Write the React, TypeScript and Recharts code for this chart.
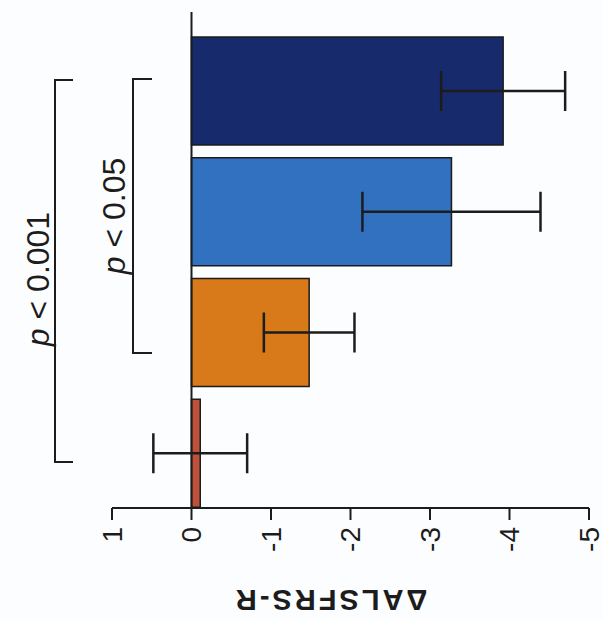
import React from 'react';
import { BarChart, Bar, XAxis, YAxis, ErrorBar, Cell, ReferenceLine, Customized } from 'recharts';

// Data
const groups = ['Group 4', 'Group 3', 'Group 2', 'Group 1'];
const meanChange = [-3.92, -3.27, -1.48, -0.11];
const errorSize = [0.78, 1.12, 0.57, 0.59];
const axisTicks = [1, 0, -1, -2, -3, -4, -5];
const pLabels = ['p < 0.001', 'p < 0.05'];

const barColors = ['#172a6c', '#3270c0', '#d87a1a', '#bd5139'];

const data = groups.map((g, i) => ({ name: g, value: meanChange[i], err: errorSize[i] }));

const INK = '#1c1c1c';

const Tick = (props: any) => {
  const { x, y, payload } = props;
  const ty = y + 5;
  return (
    <text
      x={x}
      y={ty}
      transform={`rotate(-90, ${x}, ${ty})`}
      textAnchor="end"
      dominantBaseline="central"
      fontFamily="Liberation Sans, Arial, sans-serif"
      fontSize={28}
      fill={INK}
    >
      {String(payload.value)}
    </text>
  );
};

const PText = ({ x, y, label }: { x: number; y: number; label: string }) => {
  const rest = label.slice(1);
  return (
    <text
      x={x}
      y={y}
      transform={`rotate(-90, ${x}, ${y})`}
      textAnchor="middle"
      dominantBaseline="central"
      fontFamily="Liberation Sans, Arial, sans-serif"
      fontSize={32}
      fill={INK}
    >
      <tspan fontStyle="italic">p</tspan>
      <tspan>{rest}</tspan>
    </text>
  );
};

const Annotations = () => (
  <g>
    {/* p < 0.001 bracket */}
    <path d="M73,80 L55,80 L55,462 L73,462" fill="none" stroke={INK} strokeWidth={2} />
    {/* p < 0.05 bracket */}
    <path d="M152,79 L133,79 L133,353 L152,353" fill="none" stroke={INK} strokeWidth={2} />
    <PText x={38} y={279} label={pLabels[0]} />
    <PText x={114} y={216} label={pLabels[1]} />
    <text
      x={330}
      y={600}
      transform="rotate(180, 330, 600)"
      textAnchor="middle"
      dominantBaseline="central"
      fontFamily="Liberation Sans, Arial, sans-serif"
      fontWeight="bold"
      fontSize={29}
      letterSpacing={3}
      fill={INK}
    >
      ΔALSFRS-R
    </text>
  </g>
);

export default function App() {
  return (
    <div style={{ position: 'absolute', left: 0, top: 0, width: 603, height: 621, background: '#fcfdfe' }}>
      <BarChart
        width={603}
        height={621}
        data={data}
        layout="vertical"
        margin={{ top: 12, right: 14, bottom: 53, left: 112 }}
      >
        <XAxis
          type="number"
          domain={[-5, 1]}
          reversed
          ticks={axisTicks}
          interval={0}
          height={60}
          axisLine={{ stroke: INK, strokeWidth: 2 }}
          tickLine={{ stroke: INK, strokeWidth: 2 }}
          tickSize={12}
          tick={<Tick />}
        />
        <YAxis type="category" dataKey="name" hide width={0} padding={{ top: 19, bottom: -6 }} />
        <ReferenceLine x={0} stroke={INK} strokeWidth={2} />
        <Bar dataKey="value" barSize={108} stroke={INK} strokeWidth={1.5} isAnimationActive={false}>
          {data.map((d, i) => (
            <Cell key={d.name} fill={barColors[i]} />
          ))}
          <ErrorBar dataKey="err" direction="x" width={20} stroke={INK} strokeWidth={2.5} />
        </Bar>
        <Customized component={Annotations} />
      </BarChart>
    </div>
  );
}
